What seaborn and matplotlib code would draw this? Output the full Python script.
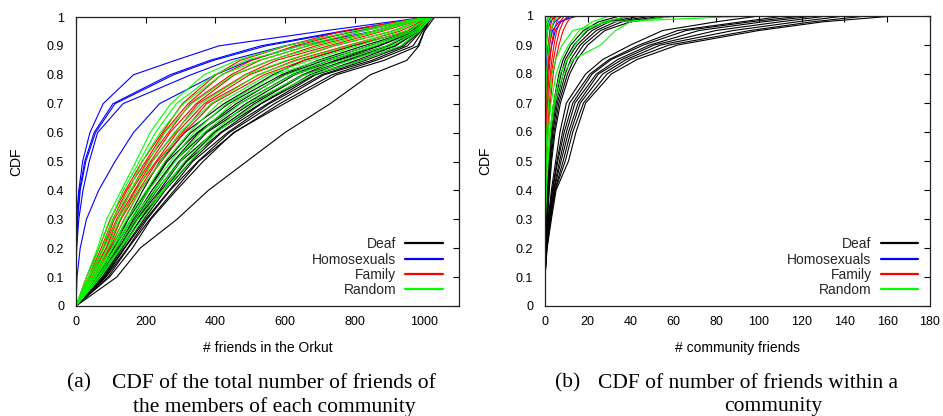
import numpy as np
import pandas as pd
import matplotlib
matplotlib.use("Agg")
import matplotlib.pyplot as plt
import matplotlib.ticker as mticker
from matplotlib.lines import Line2D
import seaborn as sns

groups = ['Deaf', 'Homosexuals', 'Family', 'Random']
group_colors = {'Deaf': '#000000', 'Homosexuals': '#0000ff',
                'Family': '#ff0000', 'Random': '#00ff00'}

# (a) friends in Orkut: x value of each curve at these CDF levels
levels_total = [0, 0.1, 0.2, 0.3, 0.4, 0.5, 0.6, 0.7, 0.8, 0.85, 0.9, 0.95, 1.0]

deaf_total = [
    [0, 55, 100, 148, 192, 240, 312, 425, 565, 655, 795, 952, 1005],
    [0, 60, 108, 150, 205, 258, 330, 438, 590, 695, 825, 962, 1010],
    [0, 63, 110, 160, 208, 262, 348, 460, 598, 712, 842, 966, 1012],
    [0, 64, 118, 165, 218, 280, 352, 470, 620, 728, 866, 970, 1015],
    [0, 70, 116, 170, 225, 282, 370, 488, 628, 745, 872, 973, 1010],
    [0, 69, 122, 174, 232, 296, 375, 502, 650, 752, 892, 975, 1018],
    [0, 74, 126, 176, 240, 300, 395, 512, 655, 775, 898, 979, 1015],
    [0, 76, 130, 185, 244, 315, 398, 530, 672, 782, 915, 980, 1020],
    [0, 79, 133, 186, 252, 318, 415, 532, 685, 805, 918, 983, 1012],
    [0, 81, 138, 195, 256, 330, 418, 550, 688, 818, 935, 985, 1022],
    [0, 84, 140, 200, 268, 335, 435, 555, 705, 832, 942, 988, 1018],
    [0, 86, 148, 204, 270, 350, 440, 570, 712, 850, 952, 990, 1025],
    [0, 92, 150, 212, 282, 352, 455, 585, 735, 862, 968, 995, 1020],
    [0, 96, 162, 215, 288, 365, 452, 598, 748, 885, 982, 1000, 1030],
    [0, 117, 184, 290, 380, 490, 600, 730, 845, 950, 985, 1000, 1020],
]

homo_total = [
    [0, 0, 0, 1, 8, 19, 40, 78, 165, 285, 410, 700, 1008],
    [0, 0, 1, 4, 10, 25, 52, 106, 270, 385, 530, 760, 1010],
    [0, 0, 1, 5, 12, 28, 56, 112, 280, 395, 545, 770, 1012],
    [0, 0, 2, 8, 20, 38, 62, 135, 330, 440, 600, 800, 1015],
    [0, 3, 12, 30, 65, 112, 165, 240, 400, 500, 640, 850, 1010],
]

family_total = [
    [0, 30, 66, 98, 142, 190, 248, 305, 402, 472, 605, 762, 1005],
    [0, 36, 72, 106, 146, 200, 252, 322, 418, 505, 628, 795, 1010],
    [0, 37, 78, 110, 158, 204, 265, 328, 445, 528, 665, 818, 1012],
    [0, 41, 79, 117, 160, 214, 270, 345, 455, 560, 688, 855, 1015],
    [0, 42, 86, 120, 168, 218, 285, 350, 485, 575, 725, 878, 1018],
    [0, 46, 87, 128, 170, 230, 290, 368, 498, 610, 742, 905, 1020],
    [0, 50, 94, 129, 180, 233, 305, 375, 525, 628, 775, 928, 1022],
    [0, 56, 97, 138, 184, 245, 310, 392, 540, 655, 788, 952, 1025],
]

random_total = [
    [0, 30, 62, 88, 130, 172, 213, 272, 368, 462, 602, 792, 1005],
    [0, 36, 66, 100, 136, 182, 228, 288, 398, 488, 645, 818, 1010],
    [0, 38, 76, 106, 152, 190, 242, 308, 418, 525, 668, 852, 1012],
    [0, 43, 80, 120, 158, 208, 255, 332, 452, 558, 705, 868, 1015],
    [0, 44, 90, 126, 175, 220, 282, 358, 488, 605, 738, 902, 1018],
    [0, 49, 92, 140, 184, 242, 298, 388, 522, 636, 782, 918, 1010],
    [0, 51, 102, 146, 202, 255, 325, 408, 552, 672, 808, 942, 1020],
    [0, 56, 104, 157, 208, 272, 338, 432, 572, 702, 845, 955, 1015],
    [0, 57, 112, 160, 224, 284, 358, 448, 604, 728, 858, 966, 1022],
    [0, 63, 116, 172, 230, 300, 368, 472, 622, 762, 892, 974, 1018],
    [0, 65, 126, 178, 248, 312, 392, 492, 655, 788, 908, 980, 1025],
    [0, 71, 129, 190, 252, 328, 402, 518, 678, 822, 932, 986, 1020],
]

# (b) community friends
levels_comm = [0.1, 0.2, 0.3, 0.4, 0.5, 0.6, 0.7, 0.8, 0.85, 0.9, 0.95, 0.98, 1.0]

deaf_comm = [
    [0, 0.3, 1.5, 3.0, 5.0, 7.0, 10, 19, 27, 40, 55, 80, 100],
    [0, 0.4, 1.7, 3.4, 5.6, 8.2, 11.5, 21, 30, 44, 62, 92, 112],
    [0, 0.5, 1.9, 3.6, 6.0, 9.0, 13, 22, 31, 46, 66, 96, 120],
    [0, 0.6, 2.1, 4.0, 6.8, 10, 14, 24, 34, 49, 72, 102, 126],
    [0, 0.7, 2.4, 4.2, 7.5, 11, 15.5, 25, 36, 51, 80, 110, 132],
    [0, 0.8, 2.5, 4.6, 8.5, 12, 16.5, 27, 38, 54, 88, 118, 140],
    [0, 0.9, 2.7, 4.8, 9.5, 13, 18, 29, 40, 58, 96, 125, 150],
    [0, 1.0, 3.0, 5.2, 11, 14.5, 19, 31, 43, 62, 100, 130, 163],
    [0, 0.2, 0.6, 1.0, 1.6, 2.5, 4.0, 6.5, 8.5, 12, 18, 25, 35],
    [0, 0.3, 0.8, 1.2, 1.9, 2.9, 4.6, 7.5, 9.5, 13.5, 20, 28, 40],
    [0, 0.3, 0.9, 1.4, 2.2, 3.3, 5.2, 8.5, 10.5, 15, 22, 30, 45],
    [0, 0.4, 1.0, 1.6, 2.5, 3.7, 5.8, 9.5, 12, 16.5, 24, 33, 50],
    [0, 0.4, 1.1, 1.8, 2.8, 4.2, 6.5, 10.5, 13.5, 18, 26, 36, 55],
    [0, 0.5, 1.2, 2.0, 3.1, 4.7, 7.2, 11.5, 15, 20, 28, 40, 60],
]

homo_comm = [
    [0, 0, 0, 0, 0, 0, 0, 0, 0.1, 0.3, 0.8, 1.5, 3.0],
    [0, 0, 0, 0, 0, 0, 0, 0.1, 0.3, 0.6, 1.2, 2.5, 5.0],
    [0, 0, 0, 0, 0, 0, 0.1, 0.4, 0.8, 1.5, 2.6, 4.5, 8.0],
    [0, 0, 0, 0, 0, 0.1, 0.5, 1.2, 2.0, 3.2, 4.8, 7.5, 12],
    [0, 0, 0, 0, 0, 0, 0.2, 0.6, 1.1, 2.0, 3.5, 6.5, 15],
]

family_comm = [
    [0, 0, 0, 0, 0, 0.3, 0.8, 1.3, 1.7, 2.2, 3.0, 4.0, 5.0],
    [0, 0, 0, 0, 0.2, 0.6, 1.2, 1.8, 2.4, 3.0, 4.2, 5.5, 7.0],
    [0, 0, 0, 0.1, 0.4, 0.9, 1.6, 2.5, 3.2, 4.2, 5.5, 7.0, 9.0],
    [0, 0, 0, 0.2, 0.6, 1.2, 2.0, 3.0, 4.0, 5.2, 6.8, 8.5, 10.5],
    [0, 0, 0.1, 0.3, 0.8, 1.5, 2.5, 3.8, 5.0, 6.5, 8.5, 10.5, 12.5],
    [0, 0, 0, 0, 0, 0.2, 0.5, 0.9, 1.2, 1.6, 2.2, 3.0, 4.0],
]

random_comm = [
    [0, 0, 0, 0, 0, 0, 0, 0, 0, 0, 0.2, 0.6, 1.5],
    [0, 0, 0, 0, 0, 0, 0, 0.1, 0.3, 0.6, 1.2, 2.0, 3.5],
    [0, 0, 0, 0, 0, 0.1, 0.3, 0.7, 1.1, 1.8, 2.8, 4.0, 6.0],
    [0, 0, 0, 0, 0, 0, 0, 0, 0.1, 0.3, 0.6, 1.0, 2.0],
    [0, 0, 0.2, 0.6, 1.5, 2.6, 4.5, 8.5, 13, 26, 33, 40, 62],
    [0, 0, 0.2, 0.5, 1.2, 2.2, 4.0, 7.0, 10.5, 14, 19, 27, 40],
    [0, 0, 0, 0, 0.3, 0.8, 1.6, 3.2, 5.0, 8.0, 13, 30, 97],
    [0, 0, 0, 0.2, 0.7, 1.5, 2.8, 5.2, 7.5, 11, 16, 22, 30],
]


def build_frame(levels, curves_by_group):
    rows = []
    for g in groups:
        for i, xs in enumerate(curves_by_group[g]):
            for x, y in zip(xs, levels):
                rows.append((g, f'{g}_{i}', x, y))
    return pd.DataFrame(rows, columns=['group', 'curve', 'x', 'cdf'])


def style_axes(ax, xmax, xstep, xlabel, legend_x):
    ax.set_xlim(0, xmax)
    ax.set_ylim(0, 1)
    ax.set_xticks(np.arange(0, xmax + 1, xstep))
    ax.set_yticks(np.arange(0, 1.01, 0.1))
    ax.yaxis.set_major_formatter(mticker.FuncFormatter(lambda v, p: f'{v:g}'))
    ax.tick_params(axis='both', direction='in', top=True, right=True,
                   length=4, width=0.8, labelsize=9, colors='black')
    ax.tick_params(axis='y', pad=8.5)
    ax.tick_params(axis='x', pad=7.5)
    for s in ax.spines.values():
        s.set_color('#222222')
        s.set_linewidth(0.9)
    ax.set_ylabel('CDF', fontsize=10, color='black')
    ax.yaxis.label.set_va('center')
    ax.yaxis.set_label_coords(-0.155, 0.5)
    ax.set_xlabel(xlabel, fontsize=10, color='black')
    ax.xaxis.label.set_va('center')
    ax.xaxis.set_label_coords(0.5, -0.145)
    handles = [Line2D([], [], color=group_colors[g], lw=1.6) for g in groups]
    ax.legend(handles, groups, loc='lower right', bbox_to_anchor=(legend_x, 0.03),
              frameon=False, markerfirst=False, handlelength=2.7,
              handletextpad=0.65, labelspacing=0.1, borderpad=0,
              borderaxespad=0, fontsize=10)


sns.set_theme(style='white')
plt.rcParams['font.family'] = ['Liberation Sans', 'DejaVu Sans']

df_total = build_frame(levels_total, {'Deaf': deaf_total, 'Homosexuals': homo_total,
                                      'Family': family_total, 'Random': random_total})
df_comm = build_frame(levels_comm, {'Deaf': deaf_comm, 'Homosexuals': homo_comm,
                                    'Family': family_comm, 'Random': random_comm})

W, H = 943, 416
fig = plt.figure(figsize=(W / 100, H / 100), dpi=100)
ax1 = fig.add_axes([76 / W, 1 - 306 / H, 383 / W, 289 / H])
ax2 = fig.add_axes([545 / W, 1 - 306 / H, 385 / W, 290 / H])

for ax, df in [(ax1, df_total), (ax2, df_comm)]:
    sns.lineplot(data=df, x='x', y='cdf', hue='group', hue_order=groups,
                 units='curve', estimator=None, sort=False, palette=group_colors,
                 lw=0.8, legend=False, ax=ax)

style_axes(ax1, 1100, 200, '# friends in the Orkut', 0.958)
style_axes(ax2, 180, 20, '# community friends', 0.969)

serif = dict(family=['Liberation Serif', 'DejaVu Serif'], fontsize=15.5, color='black', va='center')
fig.text(67 / W, 1 - 383 / H, '(a)', ha='left', **serif)
fig.text(274 / W, 1 - 383 / H, 'CDF of the total number of friends of', ha='center', **serif)
fig.text(274 / W, 1 - 407 / H, 'the members of each community', ha='center', **serif)
fig.text(555 / W, 1 - 383 / H, '(b)', ha='left', **serif)
fig.text(748 / W, 1 - 383 / H, 'CDF of number of friends within a', ha='center', **serif)
fig.text(773 / W, 1 - 407 / H, 'community', ha='center', **serif)

fig.savefig('out.png', dpi=100)
